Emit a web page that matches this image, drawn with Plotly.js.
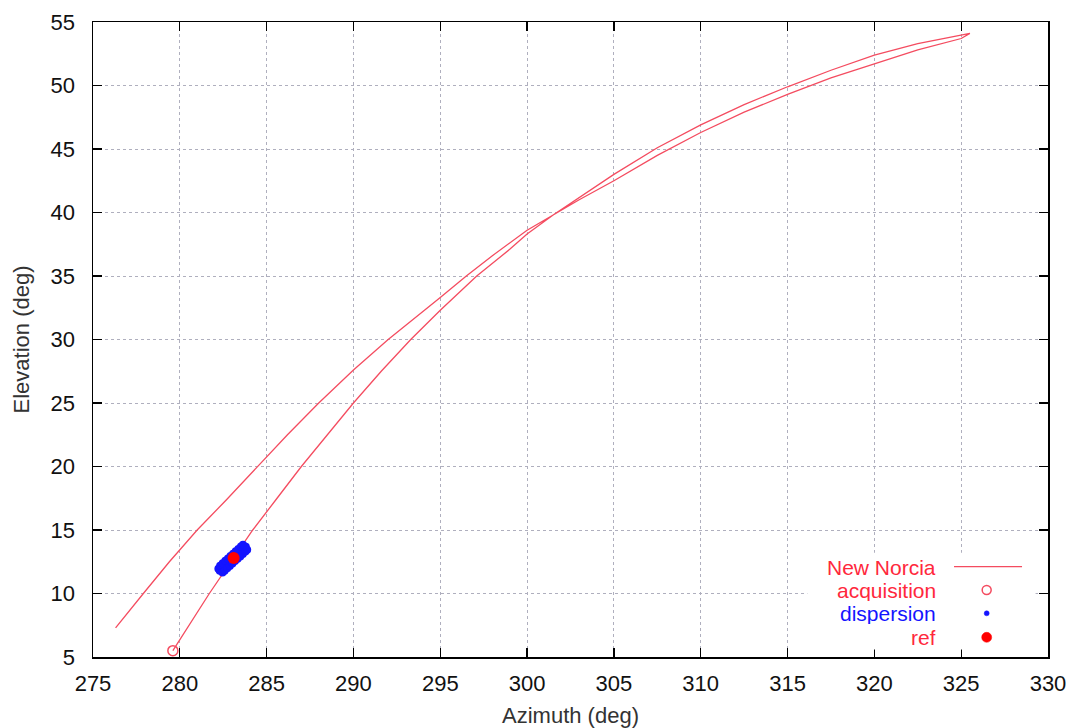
<!DOCTYPE html>
<html>
<head>
<meta charset="utf-8">
<script src="https://cdn.plot.ly/plotly-3.0.1.min.js"></script>
<style>html,body{margin:0;padding:0;background:#fff;}#chart{width:1072px;height:728px;}</style>
</head>
<body>
<div id="chart"></div>
<script>
// Track of the pass as seen from New Norcia (azimuth / elevation in degrees)
const trackAz = [279.6, 280.5, 281.7, 283.0, 284.2, 285.6, 287.0, 288.5, 290.0, 291.6, 293.3, 295.0, 297.1, 299.0, 300.0, 301.5, 303.0, 305.0, 307.5, 310.0, 312.5, 315.0, 317.5, 320.0, 322.5, 325.0, 325.5,
                 325.0, 322.5, 320.0, 317.5, 315.0, 312.5, 310.0, 307.5, 305.0, 303.0, 301.5, 300.0, 298.0, 296.5, 295.0, 292.0, 290.0, 288.0, 286.2, 284.5, 282.7, 281.0, 279.4, 277.9, 276.3];
const trackEl = [5.5, 7.4, 10.0, 12.6, 15.0, 17.5, 20.0, 22.5, 25.0, 27.5, 30.0, 32.3, 35.0, 37.1, 38.3, 39.8, 41.2, 43.0, 45.1, 46.9, 48.5, 49.9, 51.2, 52.4, 53.3, 54.0, 54.1,
                 53.7, 52.8, 51.7, 50.6, 49.3, 47.9, 46.3, 44.5, 42.5, 41.0, 39.8, 38.6, 36.6, 35.0, 33.3, 30.0, 27.6, 25.0, 22.5, 20.0, 17.4, 15.0, 12.5, 10.0, 7.3];

const acqAz = [279.6];
const acqEl = [5.5];

const dispAz = [282.30, 282.45, 282.60, 282.75, 282.90, 283.05, 283.20, 283.35, 283.50, 283.65, 283.80,
                282.22, 282.32, 282.47, 282.62, 282.77, 282.92, 283.07, 283.22, 283.37, 283.52, 283.64,
                282.46, 282.58, 282.73, 282.88, 283.03, 283.18, 283.33, 283.48, 283.63, 283.78, 283.88];
const dispEl = [11.80, 11.99, 12.18, 12.37, 12.56, 12.75, 12.93, 13.12, 13.31, 13.50, 13.69,
                11.95, 12.19, 12.38, 12.57, 12.76, 12.95, 13.13, 13.32, 13.51, 13.70, 13.84,
                11.65, 11.79, 11.98, 12.17, 12.36, 12.55, 12.73, 12.92, 13.11, 13.30, 13.45];

const refAz = [283.1];
const refEl = [12.8];

const legendLabels = ["New Norcia", "acquisition", "dispersion", "ref"];
const xTickVals = [275, 280, 285, 290, 295, 300, 305, 310, 315, 320, 325, 330];
const yTickVals = [5, 10, 15, 20, 25, 30, 35, 40, 45, 50, 55];

const lineRed = 'rgb(244,76,96)';
const txtRed = 'rgb(255,40,60)';
const blue = 'rgb(20,20,255)';
const FONT = '"Liberation Sans", Arial, sans-serif';

const traces = [
  {x: trackAz, y: trackEl, type: 'scatter', mode: 'lines', name: legendLabels[0],
   line: {color: lineRed, width: 1.3}, showlegend: false},
  {x: dispAz, y: dispEl, type: 'scatter', mode: 'markers', name: legendLabels[2],
   marker: {color: blue, size: 8, line: {width: 0}}, showlegend: false},
  {x: refAz, y: refEl, type: 'scatter', mode: 'markers', name: legendLabels[3],
   marker: {color: 'rgb(255,0,0)', size: 12, line: {width: 0}}, showlegend: false},
  {x: acqAz, y: acqEl, type: 'scatter', mode: 'markers', name: legendLabels[1], cliponaxis: false,
   marker: {symbol: 'circle-open', color: lineRed, size: 10, line: {width: 1.5, color: lineRed}}, showlegend: false}
];

// legend placement (paper coordinates)
const legTextX = 0.884;
const legY = [0.1422, 0.1055, 0.0688, 0.0310];
const legSymX = 0.9358;
const legColors = [txtRed, txtRed, blue, txtRed];

const annotations = legendLabels.map((t, i) => ({
  text: t, xref: 'paper', yref: 'paper', x: legTextX, y: legY[i],
  xanchor: 'right', yanchor: 'middle', showarrow: false,
  height: 22, borderpad: 0, valign: 'middle',
  font: {family: FONT, size: 21, color: legColors[i]}
}));

function pxCircle(xc, yc, r, fill, lineColor, lw) {
  return {type: 'circle', xref: 'paper', yref: 'paper', xsizemode: 'pixel', ysizemode: 'pixel',
    xanchor: xc, yanchor: yc, x0: -r, x1: r, y0: -r, y1: r, layer: 'above',
    fillcolor: fill, line: {color: lineColor, width: lw}};
}

const shapes = [
  {type: 'rect', xref: 'paper', yref: 'paper', x0: 0.748, x1: 0.987, y0: 0.012, y1: 0.164,
   fillcolor: 'white', line: {width: 0}, layer: 'above'},
  {type: 'line', xref: 'paper', yref: 'paper', x0: 0.9016, x1: 0.9728, y0: legY[0], y1: legY[0],
   line: {color: lineRed, width: 1.3}, layer: 'above'},
  pxCircle(legSymX, legY[1], 4.5, 'rgba(0,0,0,0)', lineRed, 1.5),
  pxCircle(legSymX, legY[2], 2.5, blue, blue, 0.5),
  pxCircle(legSymX, legY[3], 5, 'rgb(255,0,0)', 'rgb(255,0,0)', 0.5)
];

const axisCommon = {
  showline: true, mirror: 'ticks', linecolor: '#000', linewidth: 1.5,
  ticks: 'inside', ticklen: 9, tickwidth: 1.2, tickcolor: '#000',
  showgrid: true, gridcolor: 'rgb(175,175,190)', griddash: 'dot', gridwidth: 1,
  zeroline: false, tickfont: {family: FONT, size: 22, color: '#111'}
};

const layout = {
  width: 1072, height: 728,
  margin: {l: 93, r: 24, t: 22, b: 71},
  paper_bgcolor: 'white', plot_bgcolor: 'white',
  showlegend: false,
  xaxis: Object.assign({}, axisCommon, {
    range: [275, 330], tickmode: 'array', tickvals: xTickVals,
    ticklabelstandoff: 6,
    title: {text: 'Azimuth (deg)', standoff: 12, font: {family: FONT, size: 22, color: '#333'}}
  }),
  yaxis: Object.assign({}, axisCommon, {
    range: [5, 55], tickmode: 'array', tickvals: yTickVals,
    ticklabelstandoff: 12,
    title: {text: 'Elevation (deg)', standoff: 15, font: {family: FONT, size: 22, color: '#333'}}
  }),
  annotations: annotations,
  shapes: shapes
};

Plotly.newPlot('chart', traces, layout, {displayModeBar: false, staticPlot: true});
</script>
</body>
</html>
